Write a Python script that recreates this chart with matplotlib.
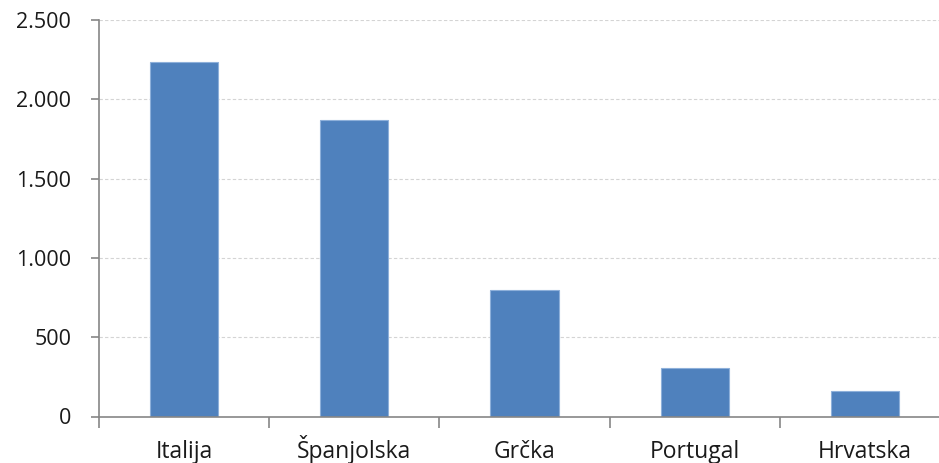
import matplotlib
matplotlib.use("Agg")
import matplotlib.pyplot as plt
from matplotlib.ticker import FuncFormatter, FixedLocator

plt.rcParams["font.family"] = ["Open Sans", "DejaVu Sans"]

countries = ["Italija", "Španjolska", "Grčka", "Portugal", "Hrvatska"]
values = [2237, 1869, 795, 304, 163]

BAR_C = "#4F81BD"
AXIS_C = "#868686"

fig = plt.figure(figsize=(9.39, 4.63), dpi=100)
ax = fig.add_axes([99 / 939, 46.5 / 463, 851 / 939, 396.5 / 463])

x = list(range(len(countries)))
ax.bar(x, values, width=0.4, color=BAR_C, edgecolor="#8EB0DA", linewidth=0.8, zorder=3)

ax.set_xlim(-0.5, len(countries) - 0.5)
ax.set_ylim(0, 2500)
ax.set_yticks([0, 500, 1000, 1500, 2000, 2500])
ax.yaxis.set_major_formatter(FuncFormatter(lambda v, p: f"{int(v):,}".replace(",", ".")))

ax.set_xticks(x)
ax.set_xticklabels(countries)
ax.xaxis.set_minor_locator(FixedLocator([i - 0.5 for i in range(len(countries) + 1)]))
ax.tick_params(axis="x", which="major", length=0, pad=30, labelsize=16.5, colors="#1a1a1a")
ax.tick_params(axis="x", which="minor", length=8, width=1.2, color=AXIS_C, direction="out")
ax.tick_params(axis="y", length=6, width=1.2, color=AXIS_C, pad=14, labelsize=15.5, labelcolor="#1a1a1a")
for lab in ax.get_xticklabels():
    lab.set_va("baseline")

for v in [500, 1000, 1500, 2000, 2500]:
    ax.axhline(v, color="#d4d4d4", ls=(0, (3, 2)), lw=0.8, zorder=1)

for s in ["top", "right"]:
    ax.spines[s].set_visible(False)
for s in ["left", "bottom"]:
    ax.spines[s].set_color(AXIS_C)
    ax.spines[s].set_linewidth(1.2)
ax.spines["bottom"].set_zorder(4)

fig.savefig("out.png", dpi=100)
